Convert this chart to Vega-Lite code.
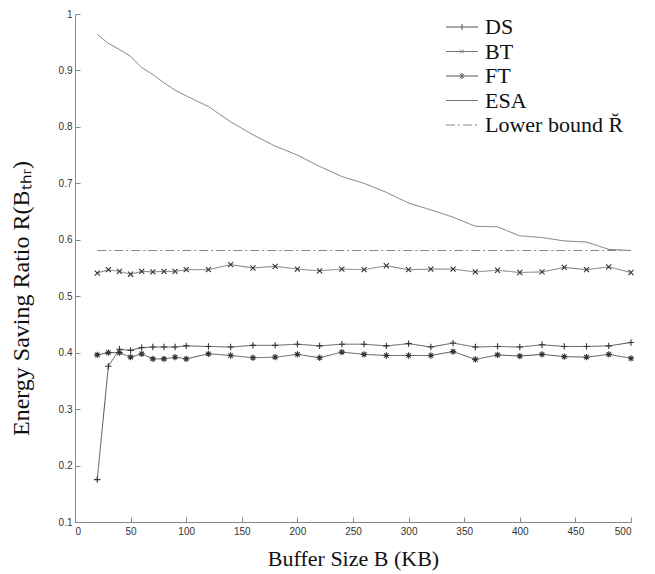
{
  "$schema": "https://vega.github.io/schema/vega-lite/v6.json",
  "width": 556,
  "height": 508,
  "autosize": {"type": "none"},
  "padding": {"left": 75, "top": 14, "right": 24, "bottom": 52},
  "background": "white",
  "config": {
    "view": {"stroke": null},
    "axis": {
      "grid": false,
      "domainColor": "#888888",
      "tickColor": "#888888",
      "labelFont": "Liberation Sans",
      "labelFontSize": 10,
      "labelColor": "#333333",
      "titleFont": "Liberation Serif",
      "titleFontSize": 22,
      "titleFontWeight": "normal",
      "titleColor": "#111111"
    }
  },
  "data": {
    "values": [
      {"B": 20, "R": 0.175, "series": "DS"},
      {"B": 30, "R": 0.376, "series": "DS"},
      {"B": 40, "R": 0.406, "series": "DS"},
      {"B": 50, "R": 0.404, "series": "DS"},
      {"B": 60, "R": 0.409, "series": "DS"},
      {"B": 70, "R": 0.41, "series": "DS"},
      {"B": 80, "R": 0.41, "series": "DS"},
      {"B": 90, "R": 0.41, "series": "DS"},
      {"B": 100, "R": 0.412, "series": "DS"},
      {"B": 120, "R": 0.411, "series": "DS"},
      {"B": 140, "R": 0.41, "series": "DS"},
      {"B": 160, "R": 0.413, "series": "DS"},
      {"B": 180, "R": 0.413, "series": "DS"},
      {"B": 200, "R": 0.415, "series": "DS"},
      {"B": 220, "R": 0.412, "series": "DS"},
      {"B": 240, "R": 0.415, "series": "DS"},
      {"B": 260, "R": 0.415, "series": "DS"},
      {"B": 280, "R": 0.412, "series": "DS"},
      {"B": 300, "R": 0.416, "series": "DS"},
      {"B": 320, "R": 0.41, "series": "DS"},
      {"B": 340, "R": 0.417, "series": "DS"},
      {"B": 360, "R": 0.41, "series": "DS"},
      {"B": 380, "R": 0.411, "series": "DS"},
      {"B": 400, "R": 0.41, "series": "DS"},
      {"B": 420, "R": 0.414, "series": "DS"},
      {"B": 440, "R": 0.411, "series": "DS"},
      {"B": 460, "R": 0.411, "series": "DS"},
      {"B": 480, "R": 0.412, "series": "DS"},
      {"B": 500, "R": 0.418, "series": "DS"},
      {"B": 20, "R": 0.541, "series": "BT"},
      {"B": 30, "R": 0.547, "series": "BT"},
      {"B": 40, "R": 0.544, "series": "BT"},
      {"B": 50, "R": 0.539, "series": "BT"},
      {"B": 60, "R": 0.544, "series": "BT"},
      {"B": 70, "R": 0.543, "series": "BT"},
      {"B": 80, "R": 0.544, "series": "BT"},
      {"B": 90, "R": 0.544, "series": "BT"},
      {"B": 100, "R": 0.547, "series": "BT"},
      {"B": 120, "R": 0.547, "series": "BT"},
      {"B": 140, "R": 0.556, "series": "BT"},
      {"B": 160, "R": 0.55, "series": "BT"},
      {"B": 180, "R": 0.553, "series": "BT"},
      {"B": 200, "R": 0.548, "series": "BT"},
      {"B": 220, "R": 0.545, "series": "BT"},
      {"B": 240, "R": 0.548, "series": "BT"},
      {"B": 260, "R": 0.547, "series": "BT"},
      {"B": 280, "R": 0.554, "series": "BT"},
      {"B": 300, "R": 0.547, "series": "BT"},
      {"B": 320, "R": 0.548, "series": "BT"},
      {"B": 340, "R": 0.548, "series": "BT"},
      {"B": 360, "R": 0.543, "series": "BT"},
      {"B": 380, "R": 0.546, "series": "BT"},
      {"B": 400, "R": 0.542, "series": "BT"},
      {"B": 420, "R": 0.543, "series": "BT"},
      {"B": 440, "R": 0.551, "series": "BT"},
      {"B": 460, "R": 0.547, "series": "BT"},
      {"B": 480, "R": 0.552, "series": "BT"},
      {"B": 500, "R": 0.542, "series": "BT"},
      {"B": 20, "R": 0.396, "series": "FT"},
      {"B": 30, "R": 0.4, "series": "FT"},
      {"B": 40, "R": 0.4, "series": "FT"},
      {"B": 50, "R": 0.392, "series": "FT"},
      {"B": 60, "R": 0.398, "series": "FT"},
      {"B": 70, "R": 0.389, "series": "FT"},
      {"B": 80, "R": 0.389, "series": "FT"},
      {"B": 90, "R": 0.392, "series": "FT"},
      {"B": 100, "R": 0.389, "series": "FT"},
      {"B": 120, "R": 0.398, "series": "FT"},
      {"B": 140, "R": 0.395, "series": "FT"},
      {"B": 160, "R": 0.391, "series": "FT"},
      {"B": 180, "R": 0.392, "series": "FT"},
      {"B": 200, "R": 0.397, "series": "FT"},
      {"B": 220, "R": 0.391, "series": "FT"},
      {"B": 240, "R": 0.401, "series": "FT"},
      {"B": 260, "R": 0.397, "series": "FT"},
      {"B": 280, "R": 0.395, "series": "FT"},
      {"B": 300, "R": 0.395, "series": "FT"},
      {"B": 320, "R": 0.395, "series": "FT"},
      {"B": 340, "R": 0.402, "series": "FT"},
      {"B": 360, "R": 0.388, "series": "FT"},
      {"B": 380, "R": 0.396, "series": "FT"},
      {"B": 400, "R": 0.394, "series": "FT"},
      {"B": 420, "R": 0.397, "series": "FT"},
      {"B": 440, "R": 0.393, "series": "FT"},
      {"B": 460, "R": 0.392, "series": "FT"},
      {"B": 480, "R": 0.397, "series": "FT"},
      {"B": 500, "R": 0.39, "series": "FT"},
      {"B": 20, "R": 0.964, "series": "ESA"},
      {"B": 30, "R": 0.948, "series": "ESA"},
      {"B": 40, "R": 0.937, "series": "ESA"},
      {"B": 50, "R": 0.925, "series": "ESA"},
      {"B": 60, "R": 0.905, "series": "ESA"},
      {"B": 70, "R": 0.893, "series": "ESA"},
      {"B": 80, "R": 0.878, "series": "ESA"},
      {"B": 90, "R": 0.865, "series": "ESA"},
      {"B": 100, "R": 0.855, "series": "ESA"},
      {"B": 120, "R": 0.836, "series": "ESA"},
      {"B": 140, "R": 0.809, "series": "ESA"},
      {"B": 160, "R": 0.786, "series": "ESA"},
      {"B": 180, "R": 0.766, "series": "ESA"},
      {"B": 200, "R": 0.75, "series": "ESA"},
      {"B": 220, "R": 0.73, "series": "ESA"},
      {"B": 240, "R": 0.712, "series": "ESA"},
      {"B": 260, "R": 0.7, "series": "ESA"},
      {"B": 280, "R": 0.684, "series": "ESA"},
      {"B": 300, "R": 0.665, "series": "ESA"},
      {"B": 320, "R": 0.653, "series": "ESA"},
      {"B": 340, "R": 0.64, "series": "ESA"},
      {"B": 360, "R": 0.624, "series": "ESA"},
      {"B": 380, "R": 0.623, "series": "ESA"},
      {"B": 400, "R": 0.607, "series": "ESA"},
      {"B": 420, "R": 0.604, "series": "ESA"},
      {"B": 440, "R": 0.598, "series": "ESA"},
      {"B": 460, "R": 0.596, "series": "ESA"},
      {"B": 480, "R": 0.583, "series": "ESA"},
      {"B": 500, "R": 0.581, "series": "ESA"},
      {"B": 20, "R": 0.581, "series": "Lower bound R̆"},
      {"B": 500, "R": 0.581, "series": "Lower bound R̆"}
    ]
  },
  "encoding": {
    "x": {
      "field": "B",
      "type": "quantitative",
      "scale": {"domain": [0, 500], "nice": false},
      "axis": {"values": [0, 50, 100, 150, 200, 250, 300, 350, 400, 450, 500], "tickSize": -5, "labelPadding": 9, "title": "Buffer Size B (KB)", "titlePadding": 12}
    },
    "y": {
      "field": "R",
      "type": "quantitative",
      "scale": {"domain": [0.1, 1], "nice": false, "zero": false},
      "axis": {"values": [0.1, 0.2, 0.3, 0.4, 0.5, 0.6, 0.7, 0.8, 0.9, 1], "format": "~g", "tickSize": -5, "labelPadding": 8, "title": "Energy Saving Ratio R(Bₜₕᵣ)", "titleFontSize": 24, "titleX": -42, "titleY": 284}
    }
  },
  "layer": [
    {
      "mark": {"type": "line", "strokeWidth": 1},
      "encoding": {
        "color": {
          "field": "series",
          "type": "nominal",
          "sort": ["DS", "BT", "FT", "ESA", "Lower bound R̆"],
          "scale": {"domain": ["DS", "BT", "FT", "ESA", "Lower bound R̆"], "range": ["#555555", "#777777", "#555555", "#777777", "#888888"]},
          "legend": {
            "title": null,
            "orient": "none",
            "legendX": 376,
            "legendY": 2,
            "padding": 0,
            "symbolSize": 400,
            "symbolStrokeWidth": 1,
            "labelFont": "Liberation Serif",
            "labelFontSize": 22,
            "labelColor": "#111111",
            "labelOffset": 12,
            "rowPadding": 2.5,
            "labelLimit": 300,
            "encode": {
              "symbols": {
                "update": {
                  "shape": {"signal": "datum.value === 'DS' ? 'M-1.6,0H1.6M0,-0.3V0.3' : datum.value === 'BT' ? 'M-1.6,0H1.6M-0.2,-0.2L0.2,0.2M-0.2,0.2L0.2,-0.2' : datum.value === 'FT' ? 'M-1.6,0H1.6M0,-0.3V0.3M-0.22,-0.22L0.22,0.22M-0.22,0.22L0.22,-0.22' : 'M-1.6,0H1.6'"}
                }
              }
            }
          }
        },
        "strokeDash": {
          "field": "series",
          "type": "nominal",
          "sort": ["DS", "BT", "FT", "ESA", "Lower bound R̆"],
          "scale": {"domain": ["DS", "BT", "FT", "ESA", "Lower bound R̆"], "range": [[1, 0], [1, 0], [1, 0], [1, 0], [9, 3, 2, 3]]},
          "legend": null
        }
      }
    },
    {
      "transform": [{"filter": "datum.series === 'DS' || datum.series === 'BT' || datum.series === 'FT'"}],
      "mark": {"type": "point", "filled": false, "color": "#333333", "strokeWidth": 1.1, "size": 40, "opacity": 1},
      "encoding": {
        "shape": {
          "field": "series",
          "type": "nominal",
          "scale": {"domain": ["DS", "BT", "FT"], "range": ["M-1,0H1M0,-1V1", "M-0.8,-0.8L0.8,0.8M-0.8,0.8L0.8,-0.8", "M-1,0H1M0,-1V1M-0.7,-0.7L0.7,0.7M-0.7,0.7L0.7,-0.7"]},
          "legend": null
        }
      }
    }
  ]
}
